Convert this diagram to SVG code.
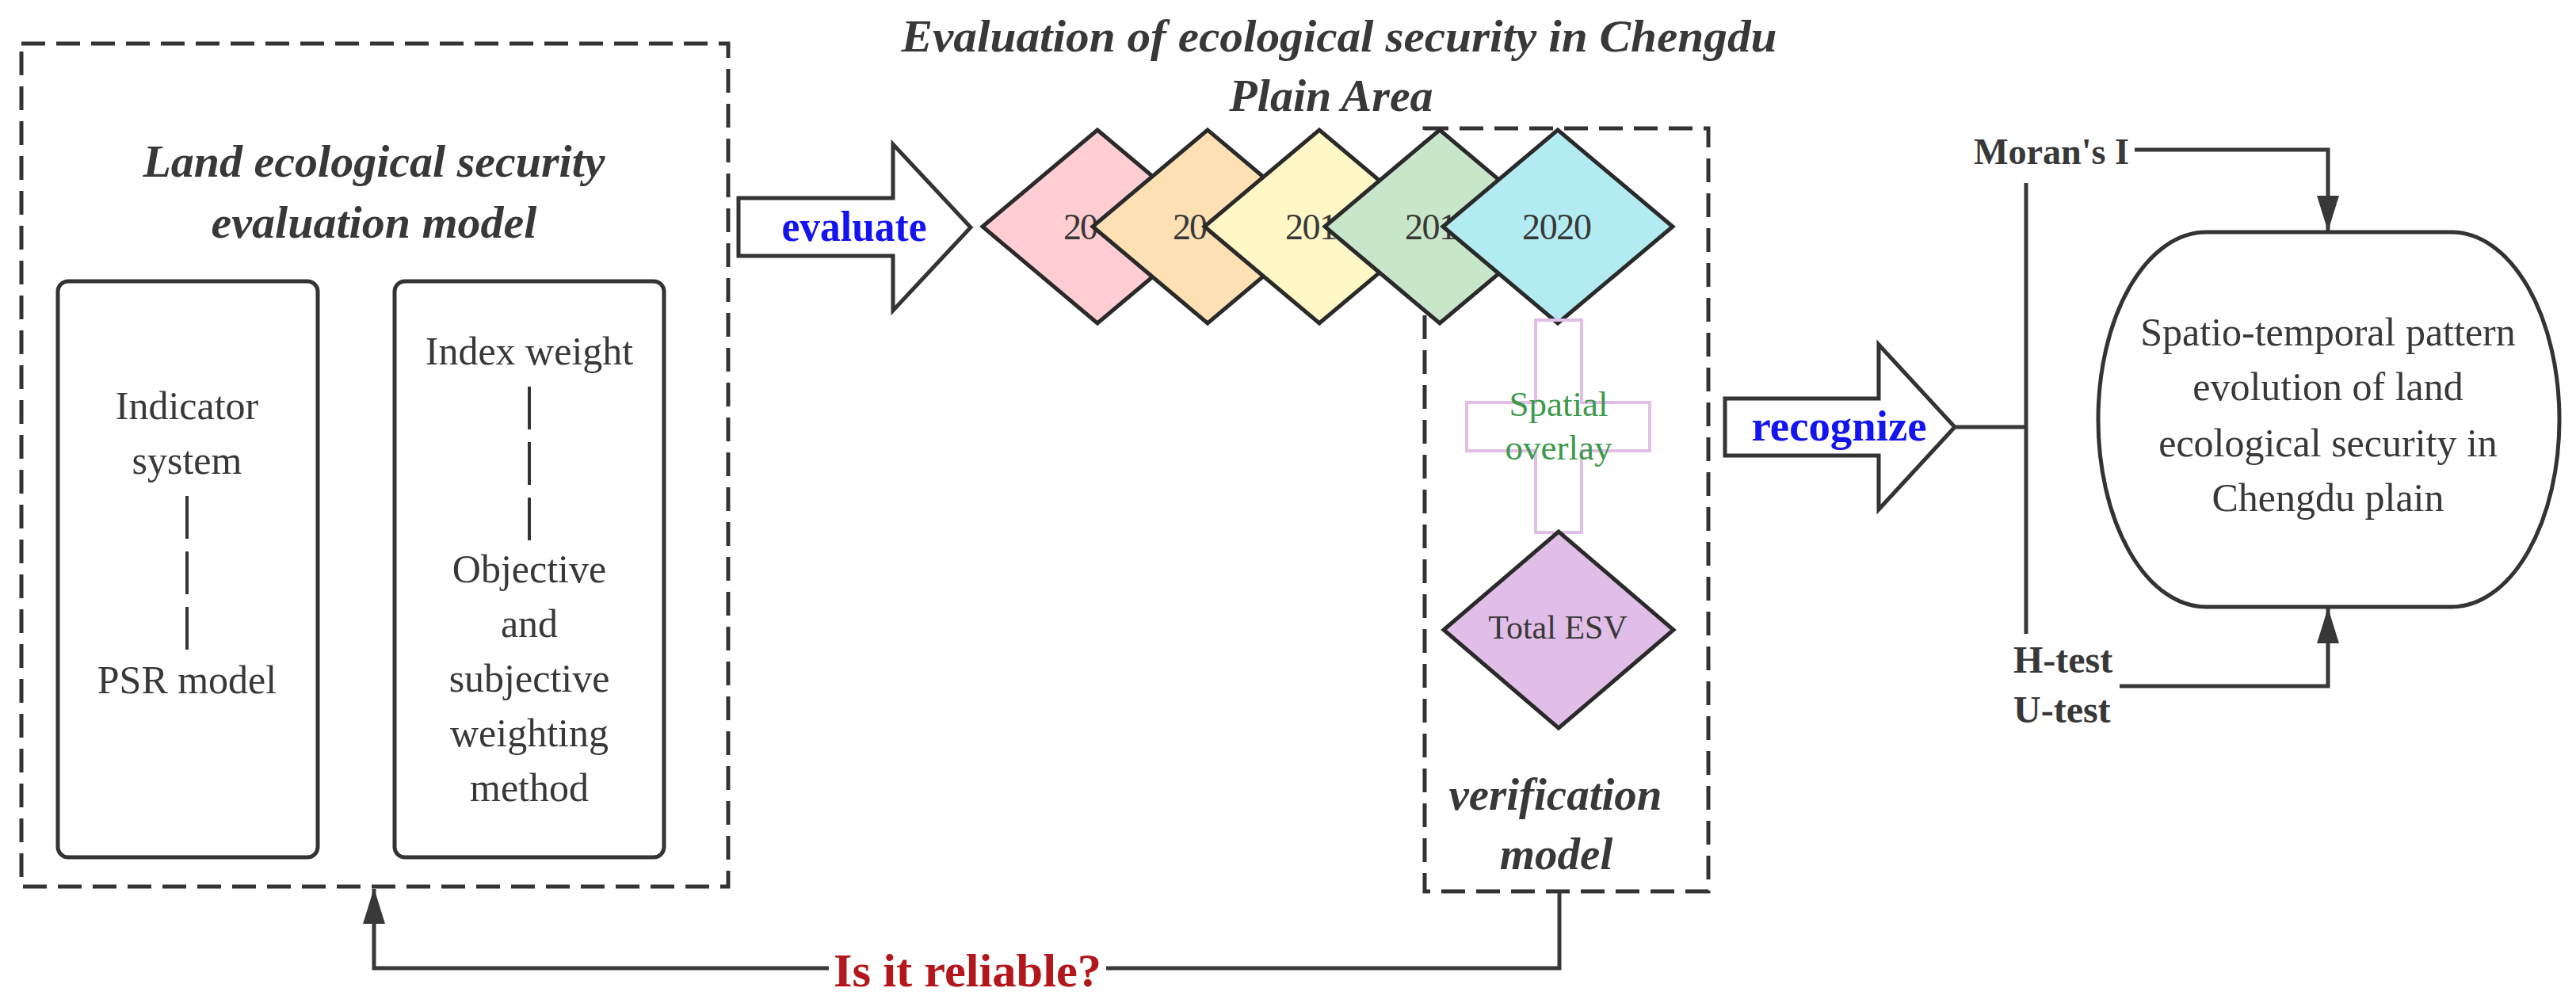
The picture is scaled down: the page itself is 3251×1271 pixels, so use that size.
<svg xmlns="http://www.w3.org/2000/svg" width="3251" height="1271" viewBox="0 0 3251 1271">
<defs>
<style>
text{font-family:"Liberation Serif","Times New Roman",serif;fill:#383838}
.reg{font-size:50px;text-anchor:middle}
.bi{font-weight:bold;font-style:italic;text-anchor:middle}
.b{font-weight:bold}
.blue{fill:#1414f0;font-weight:bold;font-size:54px;text-anchor:middle}
.dash{fill:none;stroke:#333;stroke-width:5;stroke-dasharray:30 14}
.box{fill:#fff;stroke:#333;stroke-width:5}
.dia{stroke:#2a2a2a;stroke-width:5;stroke-linejoin:miter}
.sep{stroke:#333;stroke-width:4;stroke-dasharray:54 16}
.con{fill:none;stroke:#383838;stroke-width:5}
.yr{font-size:46px}
</style>
<marker id="ah" viewBox="0 0 45 28" refX="44" refY="14" markerWidth="45" markerHeight="28" markerUnits="userSpaceOnUse" orient="auto">
<path d="M0,0 L45,14 L0,28 Z" fill="#383838"/>
</marker>
</defs>
<rect width="3251" height="1271" fill="#fff"/>

<g id="title">
<text class="bi" x="1690" y="65" font-size="58" textLength="1105" lengthAdjust="spacingAndGlyphs">Evaluation of ecological security in Chengdu</text>
<text class="bi" x="1680" y="140" font-size="58">Plain Area</text>
</g>

<g id="eval-model">
<rect class="dash" x="27" y="55" width="892" height="1064"/>
<text class="bi" x="472" y="223" font-size="58">Land ecological security</text>
<text class="bi" x="472" y="300" font-size="58">evaluation model</text>
</g>

<g id="indicator-box">
<rect class="box" x="73" y="355" width="328" height="727" rx="13"/>
<text class="reg" x="236" y="529">Indicator</text>
<text class="reg" x="236" y="598">system</text>
<line class="sep" x1="236" y1="626" x2="236" y2="822"/>
<text class="reg" x="236" y="875">PSR model</text>
</g>

<g id="weight-box">
<rect class="box" x="498" y="355" width="340" height="727" rx="13"/>
<text class="reg" x="668" y="460">Index weight</text>
<line class="sep" x1="668" y1="488" x2="668" y2="684"/>
<text class="reg" x="668" y="735">Objective</text>
<text class="reg" x="668" y="804">and</text>
<text class="reg" x="668" y="873">subjective</text>
<text class="reg" x="668" y="942">weighting</text>
<text class="reg" x="668" y="1011">method</text>
</g>

<g id="evaluate-arrow">
<polygon class="box" stroke-width="6" points="932,250 1127,250 1127,182 1225,287 1127,392 1127,323 932,323"/>
<text class="blue" x="1078" y="304" textLength="183" lengthAdjust="spacingAndGlyphs">evaluate</text>
</g>

<g id="verification-model">
<rect class="dash" x="1798" y="162" width="358" height="963"/>
<text class="bi" x="1963" y="1022" font-size="57">verification</text>
<text class="bi" x="1964" y="1097" font-size="57">model</text>
</g>

<g id="year-1">
<polygon class="dia" fill="#ffcdd2" points="1240,286 1385,164 1530,286 1385,408"/>
<text class="yr" x="1342" y="302" textLength="44">20</text>
</g>
<g id="year-2">
<polygon class="dia" fill="#fde0b4" points="1379,286 1524,164 1669,286 1524,408"/>
<text class="yr" x="1480" y="302" textLength="44">20</text>
</g>
<g id="year-3">
<polygon class="dia" fill="#fff8c6" points="1520,286 1665,164 1810,286 1665,408"/>
<text class="yr" x="1622" y="302" textLength="66">201</text>
</g>
<g id="year-4">
<polygon class="dia" fill="#c8e6c9" points="1672,286 1817,164 1962,286 1817,408"/>
<text class="yr" x="1773" y="302" textLength="66">201</text>
</g>
<g id="year-5">
<polygon class="dia" fill="#b2ebf2" points="1821,286 1966,164 2111,286 1966,408"/>
<text class="yr" x="1965" y="302" text-anchor="middle" textLength="88">2020</text>
</g>

<g id="spatial-overlay">
<path d="M1938,404 H1996 V508 H2082 V569 H1996 V672 H1938 V569 H1851 V508 H1938 Z" fill="none" stroke="#e1bee7" stroke-width="4"/>
<text x="1967" y="525" font-size="45" text-anchor="middle" style="fill:#3c9a4a">Spatial</text>
<text x="1967" y="580" font-size="45" text-anchor="middle" style="fill:#3c9a4a">overlay</text>
</g>

<g id="total-esv">
<polygon class="dia" fill="#e1bee7" points="1822,795 1967,671 2112,795 1967,919"/>
<text x="1966" y="806" font-size="42" text-anchor="middle">Total ESV</text>
</g>

<g id="recognize-arrow">
<polygon class="box" stroke-width="6" points="2177,503 2371,503 2371,435 2467,539 2371,643 2371,575 2177,575"/>
<text class="blue" x="2321" y="556" textLength="221" lengthAdjust="spacingAndGlyphs">recognize</text>
</g>

<g id="morans-i">
<text class="b" x="2491" y="207" font-size="47" textLength="196" lengthAdjust="spacingAndGlyphs">Moran's I</text>
</g>

<g id="h-u-test">
<text class="b" x="2541" y="849" font-size="48">H-test</text>
<text class="b" x="2541" y="912" font-size="48">U-test</text>
</g>

<g id="result">
<rect class="box" x="2648" y="293" width="582" height="473" rx="136" ry="236"/>
<text class="reg" x="2938" y="436">Spatio-temporal pattern</text>
<text class="reg" x="2938" y="505">evolution of land</text>
<text class="reg" x="2938" y="576">ecological security in</text>
<text class="reg" x="2938" y="645">Chengdu plain</text>
</g>

<g id="reliable-label">
<text x="1221" y="1245" font-size="60" font-weight="bold" text-anchor="middle" textLength="338" lengthAdjust="spacingAndGlyphs" style="fill:#b3161b">Is it reliable?</text>
</g>

<g id="connectors">
<path class="con" d="M2467,539 H2557"/>
<path class="con" d="M2557,231 V800"/>
<path class="con" d="M2694,189 H2938 V291" marker-end="url(#ah)"/>
<path class="con" d="M2675,866 H2938 V768" marker-end="url(#ah)"/>
<path class="con" d="M1968,1125 V1222 H1396"/>
<path class="con" d="M1046,1222 H472 V1122" marker-end="url(#ah)"/>
</g>
</svg>
